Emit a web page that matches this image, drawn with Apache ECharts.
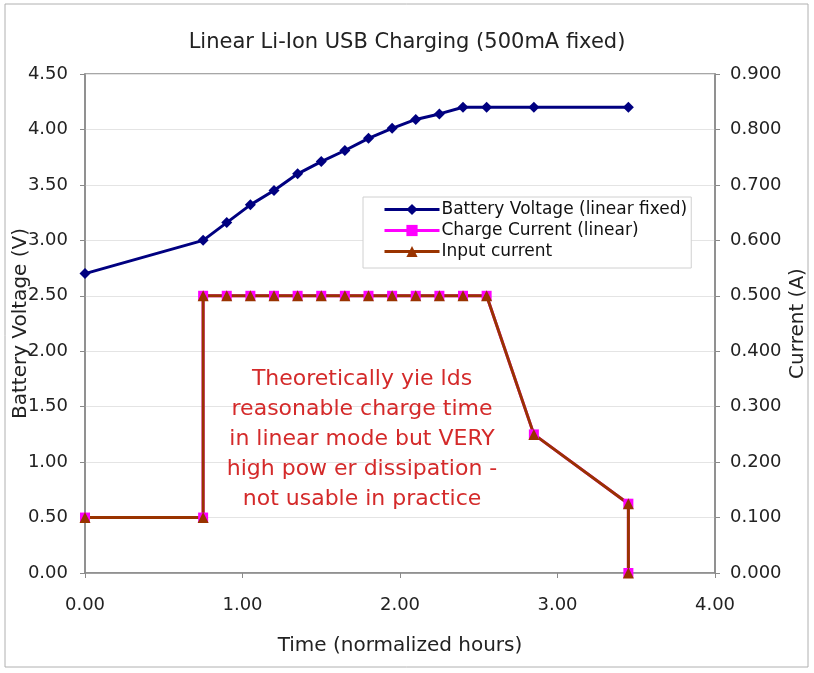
<!DOCTYPE html>
<html>
<head>
<meta charset="utf-8">
<script src="https://cdn.jsdelivr.net/npm/echarts@6/dist/echarts.min.js"></script>
<style>
html,body{margin:0;padding:0;background:#fff;}
#chart{width:814px;height:673px;}
</style>
</head>
<body>
<div id="chart"></div>
<script>
// Data
const timeV = [0, 0.75, 0.9, 1.05, 1.2, 1.35, 1.5, 1.65, 1.8, 1.95, 2.1, 2.25, 2.4, 2.55, 2.85, 3.45];
const batteryVoltage = [2.70, 3.00, 3.16, 3.32, 3.45, 3.60, 3.71, 3.81, 3.92, 4.01, 4.09, 4.14, 4.20, 4.20, 4.20, 4.20];
const timeI = [0, 0.75, 0.75, 0.9, 1.05, 1.2, 1.35, 1.5, 1.65, 1.8, 1.95, 2.1, 2.25, 2.4, 2.55, 2.85, 3.45, 3.45];
const chargeCurrent = [0.1, 0.1, 0.5, 0.5, 0.5, 0.5, 0.5, 0.5, 0.5, 0.5, 0.5, 0.5, 0.5, 0.5, 0.5, 0.25, 0.125, 0];
const inputCurrent = [0.1, 0.1, 0.5, 0.5, 0.5, 0.5, 0.5, 0.5, 0.5, 0.5, 0.5, 0.5, 0.5, 0.5, 0.5, 0.25, 0.125, 0];
const seriesNames = ['Battery Voltage (linear fixed)', 'Charge Current (linear)', 'Input current'];
const annotationLines = ['Theoretically yie lds', 'reasonable charge time', 'in linear mode but VERY', 'high pow er dissipation -', 'not usable in practice'];

const pairs = (xs, ys) => xs.map((x, i) => [x, ys[i]]);
const FONT = '"DejaVu Sans", Verdana, sans-serif';
const chart = echarts.init(document.getElementById('chart'), null, {renderer: 'canvas'});

chart.setOption({
  backgroundColor: '#fff',
  animation: false,
  textStyle: {fontFamily: FONT},
  title: {
    text: 'Linear Li-Ion USB Charging (500mA fixed)',
    left: 'center',
    top: 27,
    textStyle: {fontFamily: FONT, fontSize: 21, fontWeight: 'normal', color: '#222'}
  },
  grid: {left: 85, right: 99, top: 74, bottom: 100, containLabel: false, outerBoundsMode: 'none',
    show: true, borderColor: '#8a8a8a', borderWidth: 1.5, backgroundColor: 'transparent'},
  legend: {
    orient: 'vertical',
    left: 363, top: 197,
    padding: [2, 4, 6, 20],
    itemWidth: 55, itemHeight: 14, itemGap: 0,
    backgroundColor: '#fff',
    borderColor: '#d0d0d0', borderWidth: 1, borderRadius: 0,
    lineStyle: {width: 3},
    textStyle: {fontFamily: FONT, fontSize: 17, lineHeight: 21, color: '#111', padding: [0, 0, 0, -3]},
    data: seriesNames
  },
  xAxis: {
    type: 'value', min: 0, max: 4, interval: 1,
    name: 'Time (normalized hours)', nameLocation: 'middle', nameGap: 63, nameMoveOverlap: false,
    nameTextStyle: {fontFamily: FONT, fontSize: 20, color: '#222'},
    axisLine: {show: true, lineStyle: {color: '#8a8a8a', width: 1.5}},
    axisTick: {show: true, inside: false, length: 5, lineStyle: {color: '#8a8a8a'}},
    axisLabel: {fontFamily: FONT, fontSize: 18, color: '#222', margin: 23, formatter: v => v.toFixed(2)},
    splitLine: {show: false}
  },
  yAxis: [{
    type: 'value', min: 0, max: 4.5, interval: 0.5, position: 'left',
    name: 'Battery Voltage (V)', nameLocation: 'middle', nameGap: 54, nameMoveOverlap: false,
    nameTextStyle: {fontFamily: FONT, fontSize: 20, color: '#222'},
    axisLine: {show: true, lineStyle: {color: '#8a8a8a', width: 1.5}},
    axisTick: {show: true, length: 5, lineStyle: {color: '#8a8a8a'}},
    axisLabel: {fontFamily: FONT, fontSize: 18, color: '#222', margin: 17, formatter: v => v.toFixed(2)},
    splitLine: {show: true, lineStyle: {color: '#e4e4e4', width: 1}}
  }, {
    type: 'value', min: 0, max: 0.9, interval: 0.1, position: 'right',
    name: 'Current (A)', nameLocation: 'middle', nameGap: 73, nameMoveOverlap: false,
    nameTextStyle: {fontFamily: FONT, fontSize: 20, color: '#222'},
    axisLine: {show: true, lineStyle: {color: '#8a8a8a', width: 1.5}},
    axisTick: {show: true, length: 5, lineStyle: {color: '#8a8a8a'}},
    axisLabel: {fontFamily: FONT, fontSize: 18, color: '#222', margin: 15, formatter: v => v.toFixed(3)},
    splitLine: {show: false}
  }],
  series: [{
    name: seriesNames[0], type: 'line', yAxisIndex: 0,
    data: pairs(timeV, batteryVoltage),
    symbol: 'diamond', symbolSize: 11,
    lineStyle: {color: '#000080', width: 3},
    itemStyle: {color: '#000080'}
  }, {
    name: seriesNames[1], type: 'line', yAxisIndex: 1,
    data: pairs(timeI, chargeCurrent),
    symbol: 'rect', symbolSize: 10,
    lineStyle: {color: '#ff00ff', width: 3},
    itemStyle: {color: '#ff00ff'}
  }, {
    name: seriesNames[2], type: 'line', yAxisIndex: 1,
    data: pairs(timeI, inputCurrent),
    symbol: 'triangle', symbolSize: 11,
    lineStyle: {color: '#993300', width: 3},
    itemStyle: {color: '#993300'}
  }],
  graphic: [{
    type: 'rect', silent: true, z: -1,
    shape: {x: 5, y: 4, width: 803, height: 663},
    style: {fill: 'none', stroke: '#b0b0b0', lineWidth: 1}
  }, {
    type: 'text', silent: true, z: 100,
    style: {
      x: 362, y: 364,
      text: annotationLines.join('\n'),
      textAlign: 'center', textVerticalAlign: 'top',
      font: '22px ' + FONT,
      lineHeight: 30,
      fill: '#d42a2a'
    }
  }]
});
</script>
</body>
</html>
